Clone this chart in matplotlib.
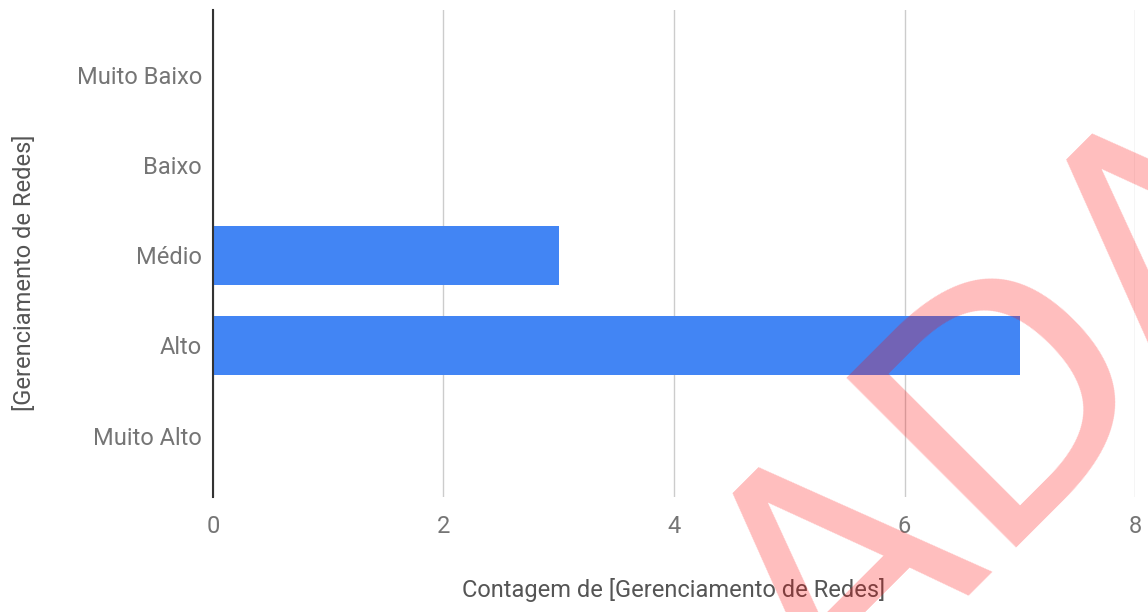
import matplotlib
matplotlib.use("Agg")
import matplotlib.pyplot as plt

categories = ["Muito Baixo", "Baixo", "Médio", "Alto", "Muito Alto"]
counts = [0, 0, 3, 7, 0]
x_ticks = [0, 2, 4, 6, 8]

plt.rcParams["font.family"] = ["Roboto", "DejaVu Sans"]

fig = plt.figure(figsize=(11.48, 6.12), dpi=100)
ax = fig.add_axes([0.1855, 0.1879, 0.8032, 0.7958])

ypos = list(range(len(categories)))
ax.barh(ypos, counts, height=0.65, color="#4285f4", zorder=3)

ax.set_xlim(0, 8)
ax.set_ylim(4.68, -0.72)
ax.set_xticks(x_ticks)
ax.set_xticklabels([str(t) for t in x_ticks])
ax.set_yticks(ypos)
ax.set_yticklabels(categories)
ax.tick_params(axis="both", length=0, labelsize=17, colors="#757575")
ax.tick_params(axis="x", pad=13)
ax.tick_params(axis="y", pad=8)

ax.grid(axis="x", color="#cccccc", linewidth=1, zorder=0)
for s in ["top", "right", "bottom"]:
    ax.spines[s].set_visible(False)
ax.spines["left"].set_color("#333333")
ax.spines["left"].set_linewidth(1.5)
ax.spines["left"].set_zorder(4)

ax.set_xlabel("Contagem de [Gerenciamento de Redes]", fontsize=17, color="#555555", va="center")
ax.xaxis.set_label_coords(0.5, -0.191)
ax.set_ylabel("[Gerenciamento de Redes]", fontsize=17, color="#555555", va="center")
ax.yaxis.set_label_coords(-0.204, 0.46)

# red watermark, only partly inside the picture
fig.text(0.7265, -0.188, "ADA", fontsize=237, color="red", alpha=0.26,
         rotation=45, rotation_mode="anchor", ha="left", va="baseline",
         family="DejaVu Sans", zorder=10)

fig.savefig("out.png", dpi=100)
